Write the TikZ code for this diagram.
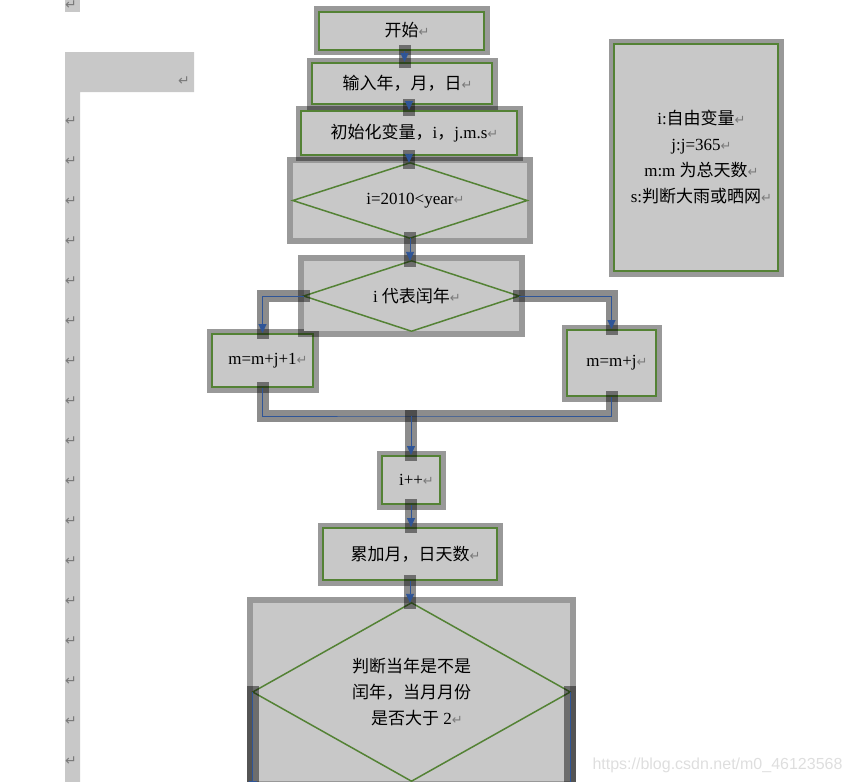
\documentclass[tikz,border=0pt]{standalone}
\usepackage{fontspec}
\setmainfont{Liberation Serif}
\newfontfamily\zhfont{Noto Sans CJK SC}
\newfontfamily\symfont{DejaVu Sans}
\newfontfamily\wmfont{Liberation Sans}
\usetikzlibrary{arrows.meta}
\newcommand\zh[1]{{\zhfont #1}}
\newcommand\pmark{\rlap{\textcolor{markgray}{\symfont\fontsize{13}{13}\selectfont ↵}}}
\begin{document}
\begin{tikzpicture}[x=1pt,y=-1pt,
  font=\fontsize{17}{26}\selectfont,
  box/.style={draw=boxgreen,line width=2pt,fill=boxfill,inner sep=1pt,
    preaction={draw=black,draw opacity=.4,line width=11pt}},
  dframe/.style={fill=boxfill,inner sep=1pt,
    preaction={draw=black,draw opacity=.4,line width=12pt}},
  dline/.style={draw=boxgreen,line width=1.5pt},
  sel/.style={preaction={draw=black,draw opacity=.45,line width=12pt,line cap=rect,arrows=-}},
  wire/.style={sel,draw=linkblue,line width=.9pt},
  flow/.style={wire,-{Triangle[length=9pt,width=8pt]}},
  pmk/.style={text=markgray,font=\symfont\fontsize{14}{14}\selectfont,inner sep=0pt}]
 \definecolor{boxfill}{RGB}{200,200,200}
 \definecolor{boxgreen}{RGB}{84,130,53}
 \definecolor{linkblue}{RGB}{47,85,151}
 \definecolor{markgray}{RGB}{122,122,122}
 \definecolor{wmgray}{RGB}{222,222,222}
 \useasboundingbox (0,0) rectangle (855,782);

 \fill[boxfill] (65,0) rectangle (80,12);
 \fill[boxfill] (65,52) rectangle (194,92) (65,92) rectangle (80,782);
 \node[pmk] (mark0) at (71,5) {↵};
 \node[pmk] (markw) at (184,81) {↵};
 \foreach \yp in {121,161,...,761}
   \node[pmk] (mark\yp) at (71,\yp) {↵};

 \foreach \name/\xp/\yp/\w/\h/\txt in {
   start/401.5/30.5/165/38/{\zh{开始}\pmark},
   input/402/83.5/180/41/{\zh{输入年，月，日}\pmark},
   init/409/133/216/44/{\zh{初始化变量，}i\zh{，}j.m.s\pmark},
   leap/262.5/360.5/101/53/{m=m+j+1\pmark},
   norm/611.5/363/89/66/{m=m+j\pmark},
   incr/411/480/58/48/{i++\pmark},
   accum/410/554/174/52/{\zh{累加月，日天数}\pmark}
 } {
   \node[box,minimum width=\w pt,minimum height=\h pt] (\name) at (\xp,\yp) {\txt};
 }
 \node[box,minimum width=164pt,minimum height=227pt,align=center] (note) at (696,157.5)
   {i:\zh{自由变量}\pmark\\j:j=365\pmark\\m:m \zh{为总天数}\pmark\\s:\zh{判断大雨或晒网}\pmark};

 \node[dframe,minimum width=234pt,minimum height=75pt] (cond1) at (410,200.5) {i=2010<year\pmark};
 \node[dframe,minimum width=215pt,minimum height=70pt] (cond2) at (411.5,296) {i \zh{代表闰年}\pmark};
 \node[dframe,minimum width=317pt,minimum height=178pt,align=center] (cond3) at (411.5,692)
   {\zh{判断当年是不是}\\\zh{闰年，当月月份}\\\zh{是否大于} 2\pmark};
 \foreach \c in {cond1,cond2,cond3}
   \draw[dline] (\c.west) -- (\c.north) -- (\c.east) -- (\c.south) -- cycle;

 \coordinate (join) at (411,416);
 \coordinate (yesend) at (253,790);
 \coordinate (noend) at (570,800);
 \draw[flow] ([xshift=3pt]start.south) -- ([xshift=3pt]start.south |- input.north);
 \draw[flow] (input.south -| init.north) -- (init.north);
 \draw[flow] (init.south) -- (init.south |- cond1.north);
 \draw[flow] (cond1.south) -- (cond1.south |- cond2.north);
 \draw[flow] (cond2.west) -| (leap.north);
 \draw[flow] (cond2.east) -| (norm.north);
 \draw[wire] (leap.south) |- (join) -| (norm.south);
 \draw[flow] (join) -- (join |- incr.north);
 \draw[flow] (incr.south) -- (incr.south |- accum.north);
 \draw[flow] (accum.south) -- (accum.south |- cond3.north);
 \draw[flow] (cond3.west) -- (cond3.west |- yesend);
 \draw[flow] (cond3.east) -- (cond3.east |- noend);

 \node[text=wmgray,font=\wmfont\fontsize{16}{16}\selectfont,anchor=east] (wm) at (846,765)
   {https://blog.csdn.net/m0\_46123568};
\end{tikzpicture}
\end{document}
